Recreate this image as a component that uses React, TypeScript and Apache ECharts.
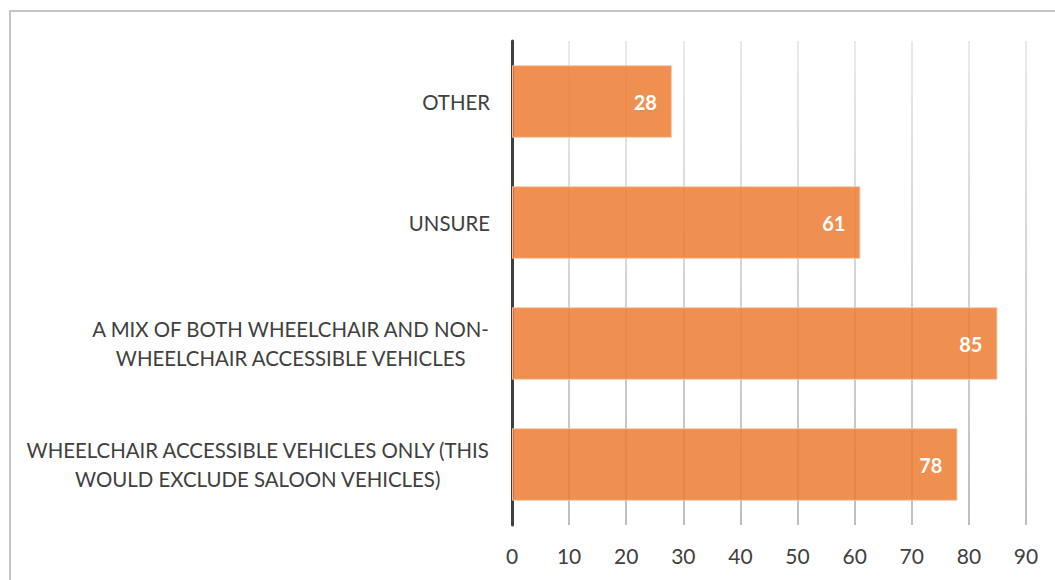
import React, { useEffect, useRef } from "react";
import * as echarts from "echarts";

const categories: string[] = [
  "WHEELCHAIR ACCESSIBLE VEHICLES ONLY (THIS\nWOULD EXCLUDE SALOON VEHICLES)",
  "A MIX OF BOTH WHEELCHAIR AND NON-\nWHEELCHAIR ACCESSIBLE VEHICLES",
  "UNSURE",
  "OTHER",
];
const values: number[] = [78, 85, 61, 28];
const xMin = 0;
const xMax = 90;
const xInterval = 10;

export default function App() {
  const ref = useRef<HTMLDivElement>(null);
  useEffect(() => {
    if (!ref.current) return;
    const chart = echarts.init(ref.current, undefined, { renderer: "svg" });
    const font = "Lato, 'Open Sans', sans-serif";
    chart.setOption({
      animation: false,
      backgroundColor: "#ffffff",
      grid: { left: 512, right: 29, top: 41, bottom: 55, containLabel: false },
      graphic: [
        {
          type: "rect",
          shape: { x: 10, y: 11, width: 1100, height: 620 },
          style: { fill: "none", stroke: "#c4c4c4", lineWidth: 2 },
          silent: true,
          z: 100,
        },
      ],
      xAxis: {
        type: "value",
        min: xMin,
        max: xMax,
        interval: xInterval,
        axisLine: { show: false },
        axisTick: { show: false },
        axisLabel: {
          color: "#404040",
          fontFamily: font,
          fontSize: 21,
          margin: 20,
        },
        splitLine: {
          show: true,
          lineStyle: {
            width: 1.5,
            color: new echarts.graphic.LinearGradient(
              0,
              41,
              0,
              525,
              [
                { offset: 0, color: "#e2e2e2" },
                { offset: 1, color: "#a8a8a8" },
              ],
              true
            ),
          },
        },
      },
      yAxis: {
        type: "category",
        data: categories,
        axisLine: { show: true, lineStyle: { color: "#404040", width: 3 } },
        axisTick: { show: false },
        splitLine: { show: false },
        axisLabel: {
          margin: 22,
          color: "#404040",
          fontFamily: font,
          fontSize: 20.4,
          lineHeight: 29,
          formatter: (v: string) =>
            v
              .split("\n")
              .map((l) => `{c|${l}}`)
              .join("\n"),
          rich: {
            c: {
              align: "center",
              color: "#404040",
              fontFamily: font,
              fontSize: 20.4,
              lineHeight: 29,
            },
          },
        },
      },
      series: [
        {
          type: "bar",
          data: values,
          barCategoryGap: "40%",
          itemStyle: {
            color: "rgba(237,125,49,0.85)",
            borderColor: "rgba(248,200,168,0.9)",
            borderWidth: 1,
          },
          label: {
            show: true,
            position: "insideRight",
            distance: 15,
            color: "#ffffff",
            fontFamily: font,
            fontWeight: "bold",
            fontSize: 20,
          },
        },
      ],
    });
    return () => chart.dispose();
  }, []);
  return (
    <div
      ref={ref}
      style={{ position: "absolute", left: 0, top: 0, width: 1055, height: 580 }}
    />
  );
}
